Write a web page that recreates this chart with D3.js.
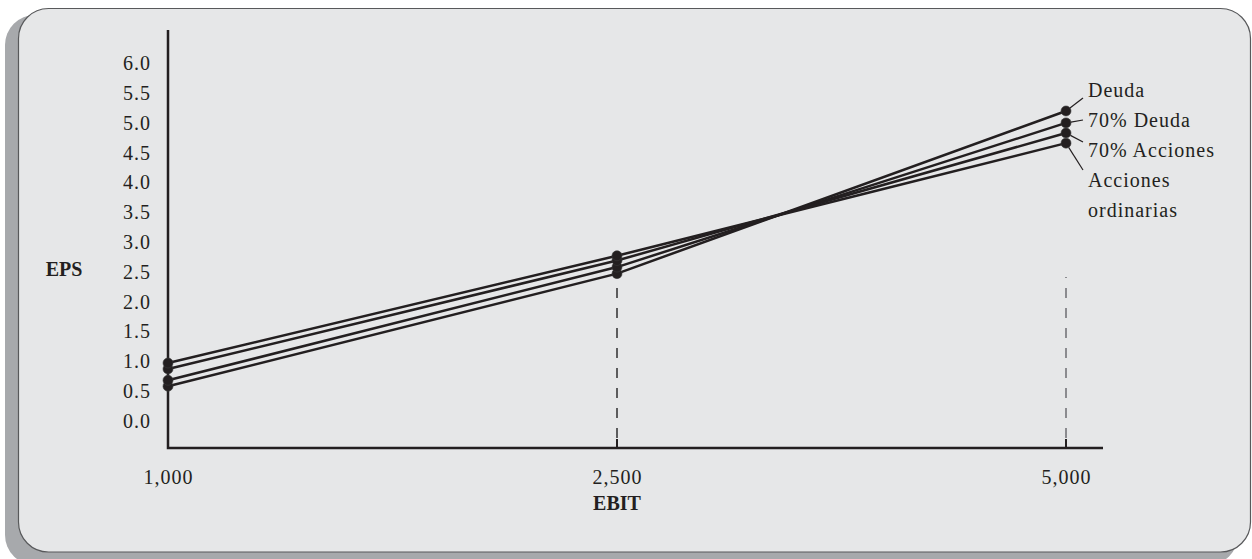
<!DOCTYPE html>
<html>
<head>
<meta charset="utf-8">
<script src="https://cdn.jsdelivr.net/npm/d3@7"></script>
<style>
  html, body { margin: 0; padding: 0; background: #ffffff; }
  svg { display: block; }
  text { font-family: "Liberation Serif", "Times New Roman", serif; fill: #231f20; }
</style>
</head>
<body>
<svg id="chart" width="1252" height="559"></svg>
<script>
// ---- data ----
const categories = ["1,000", "2,500", "5,000"];           // EBIT
const seriesNames = ["Deuda", "70% Deuda", "70% Acciones", "Acciones ordinarias"];
const deuda = [0.58, 2.47, 5.20];
const deuda70 = [0.68, 2.58, 5.00];
const acciones70 = [0.87, 2.69, 4.83];
const accionesOrd = [0.97, 2.77, 4.66];
const yTicks = [0, 0.5, 1, 1.5, 2, 2.5, 3, 3.5, 4, 4.5, 5, 5.5, 6];
const xTitle = "EBIT";
const yTitle = "EPS";
const legendLines = [["Deuda"], ["70% Deuda"], ["70% Acciones"], ["Acciones", "ordinarias"]];

const series = [deuda, deuda70, acciones70, accionesOrd].map((vals, i) => ({
  name: seriesNames[i],
  values: vals.map((v, j) => ({ cat: categories[j], v }))
}));

const svg = d3.select("#chart");
const ink = "#231f20";
const ls = "1px";

// ---- frame ----
svg.append("rect").attr("x", 5).attr("y", 15).attr("width", 1233).attr("height", 550)
  .attr("rx", 30).attr("fill", "#a7a9ac");
svg.append("rect").attr("x", 18.5).attr("y", 8.5).attr("width", 1232).attr("height", 543.5)
  .attr("rx", 30).attr("fill", "#e6e7e8").attr("stroke", "#58595b").attr("stroke-width", 1.2);

// ---- scales ----
const x = d3.scalePoint().domain(categories).range([168, 1066]).padding(0);
const y = d3.scaleLinear().domain([0, 6]).range([420.8, 63.3]);
const axisY0 = 448, axisYTop = 30, axisXEnd = 1103;

// ---- axes ----
const gy = svg.append("g").attr("transform", `translate(${x(categories[0])},0)`)
  .call(d3.axisLeft(y).tickValues(yTicks).tickFormat(d3.format(".1f")).tickSize(0).tickPadding(17));
gy.select(".domain").remove();
gy.selectAll("text").attr("font-size", 20).attr("font-family", "Liberation Serif").attr("fill", ink)
  .style("letter-spacing", ls);

const gx = svg.append("g").attr("transform", `translate(0,${axisY0})`)
  .call(d3.axisBottom(x).tickSize(0).tickPadding(0));
gx.select(".domain").remove();
gx.selectAll("text").attr("y", 29).attr("dy", "0.35em").attr("font-size", 20)
  .attr("font-family", "Liberation Serif").attr("fill", ink).style("letter-spacing", ls);

// dashed verticals + ticks at 2,500 and 5,000
const dashTops = { "2,500": 283, "5,000": 277 };
const dashColors = { "2,500": "#2f2f2f", "5,000": "#6d6e71" };
categories.slice(1).forEach(c => {
  svg.append("line").attr("x1", x(c)).attr("x2", x(c)).attr("y1", 438).attr("y2", dashTops[c])
    .attr("stroke", dashColors[c]).attr("stroke-width", 1.5).attr("stroke-dasharray", "10,10");
  svg.append("line").attr("x1", x(c)).attr("x2", x(c)).attr("y1", axisY0).attr("y2", 439)
    .attr("stroke", ink).attr("stroke-width", 2);
});

// axis lines
svg.append("path")
  .attr("d", `M${x(categories[0])},${axisYTop}V${axisY0}H${axisXEnd}`)
  .attr("fill", "none").attr("stroke", ink).attr("stroke-width", 2.5);

// titles
svg.append("text").attr("x", 64).attr("y", 269).attr("dy", "0.35em").attr("text-anchor", "middle")
  .attr("font-size", 20).attr("font-weight", "bold").text(yTitle);
svg.append("text").attr("x", x(categories[1])).attr("y", 503).attr("dy", "0.35em").attr("text-anchor", "middle")
  .attr("font-size", 20).attr("font-weight", "bold").text(xTitle);

// ---- lines ----
const line = d3.line().x(d => x(d.cat)).y(d => y(d.v));
svg.append("g").selectAll("path").data(series).join("path")
  .attr("d", d => line(d.values)).attr("fill", "none")
  .attr("stroke", ink).attr("stroke-width", 2.5);

// ---- dots ----
const dots = series.flatMap(s => s.values);
svg.append("g").selectAll("circle").data(dots).join("circle")
  .attr("cx", d => x(d.cat)).attr("cy", d => y(d.v)).attr("r", 5)
  .attr("fill", ink).attr("stroke", "#3a3a3a").attr("stroke-width", 0.6);

// ---- labels at right ----
const lastCat = categories[categories.length - 1];
const labelX = 1088, leaderEndX = 1083;
const baseY = [97, 127, 157, 187];
const leaderEndY = [98, 120, 142, 170];
series.forEach((s, i) => {
  const px = x(lastCat), py = y(s.values[s.values.length - 1].v);
  const ang = Math.atan2(leaderEndY[i] - py, leaderEndX - px);
  svg.append("line")
    .attr("x1", px + 5 * Math.cos(ang)).attr("y1", py + 5 * Math.sin(ang))
    .attr("x2", leaderEndX).attr("y2", leaderEndY[i])
    .attr("stroke", ink).attr("stroke-width", 1.2);
  legendLines[i].forEach((t, k) => {
    svg.append("text").attr("x", labelX).attr("y", baseY[i] + k * 30)
      .attr("font-size", 20).style("letter-spacing", ls).text(t);
  });
});
</script>
</body>
</html>
